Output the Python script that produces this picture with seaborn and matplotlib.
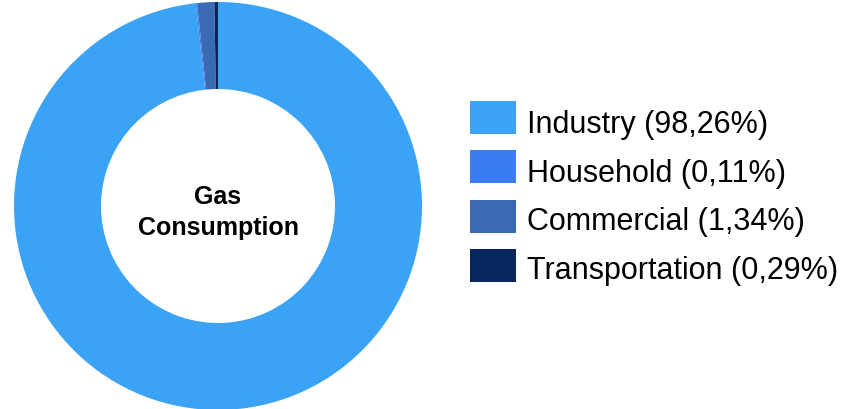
import matplotlib
matplotlib.use("Agg")
import matplotlib.pyplot as plt
import seaborn as sns
from matplotlib.patches import Rectangle

categories = ["Industry", "Household", "Commercial", "Transportation"]
values = [98.26, 0.11, 1.34, 0.29]
labels = ["Industry (98,26%)", "Household (0,11%)", "Commercial (1,34%)", "Transportation (0,29%)"]
colors = ["#3aa3f5", "#3b7cf2", "#3a6ab4", "#06275e"]
center_lines = ["Gas", "Consumption"]

sns.set_theme(style="white")
plt.rcParams['font.family'] = ['Liberation Sans', 'DejaVu Sans']

W, H = 846, 409
fig = plt.figure(figsize=(W / 100, H / 100), dpi=100)
cx, cy, r = 218, 206, 204
ax = fig.add_axes([(cx - r) / W, (H - cy - r) / H, 2 * r / W, 2 * r / H])
ax.pie(values, colors=colors, startangle=90, counterclock=False, radius=1,
       wedgeprops=dict(width=1 - 117 / 204, linewidth=0))
ax.set_xlim(-1, 1)
ax.set_ylim(-1, 1)
ax.set_aspect("equal")
ax.axis("off")
for txt, by in zip(center_lines, [204, 235]):
    fig.text(218 / W, (H - by) / H, txt, ha="center", va="baseline",
             fontsize=18, fontweight="bold", color="black")

# legend
box_centers = [117.5, 166.5, 216, 265]
baselines = [133, 182, 230, 279]
for yc, yb, lab, col in zip(box_centers, baselines, labels, colors):
    fig.patches.append(Rectangle((470 / W, (H - yc - 16.5) / H), 46 / W, 33 / H,
                                 transform=fig.transFigure, facecolor=col,
                                 edgecolor="none"))
    fig.text(527 / W, (H - yb) / H, lab, ha="left", va="baseline", fontsize=22,
             color="black")

fig.savefig("out.png", dpi=100)
